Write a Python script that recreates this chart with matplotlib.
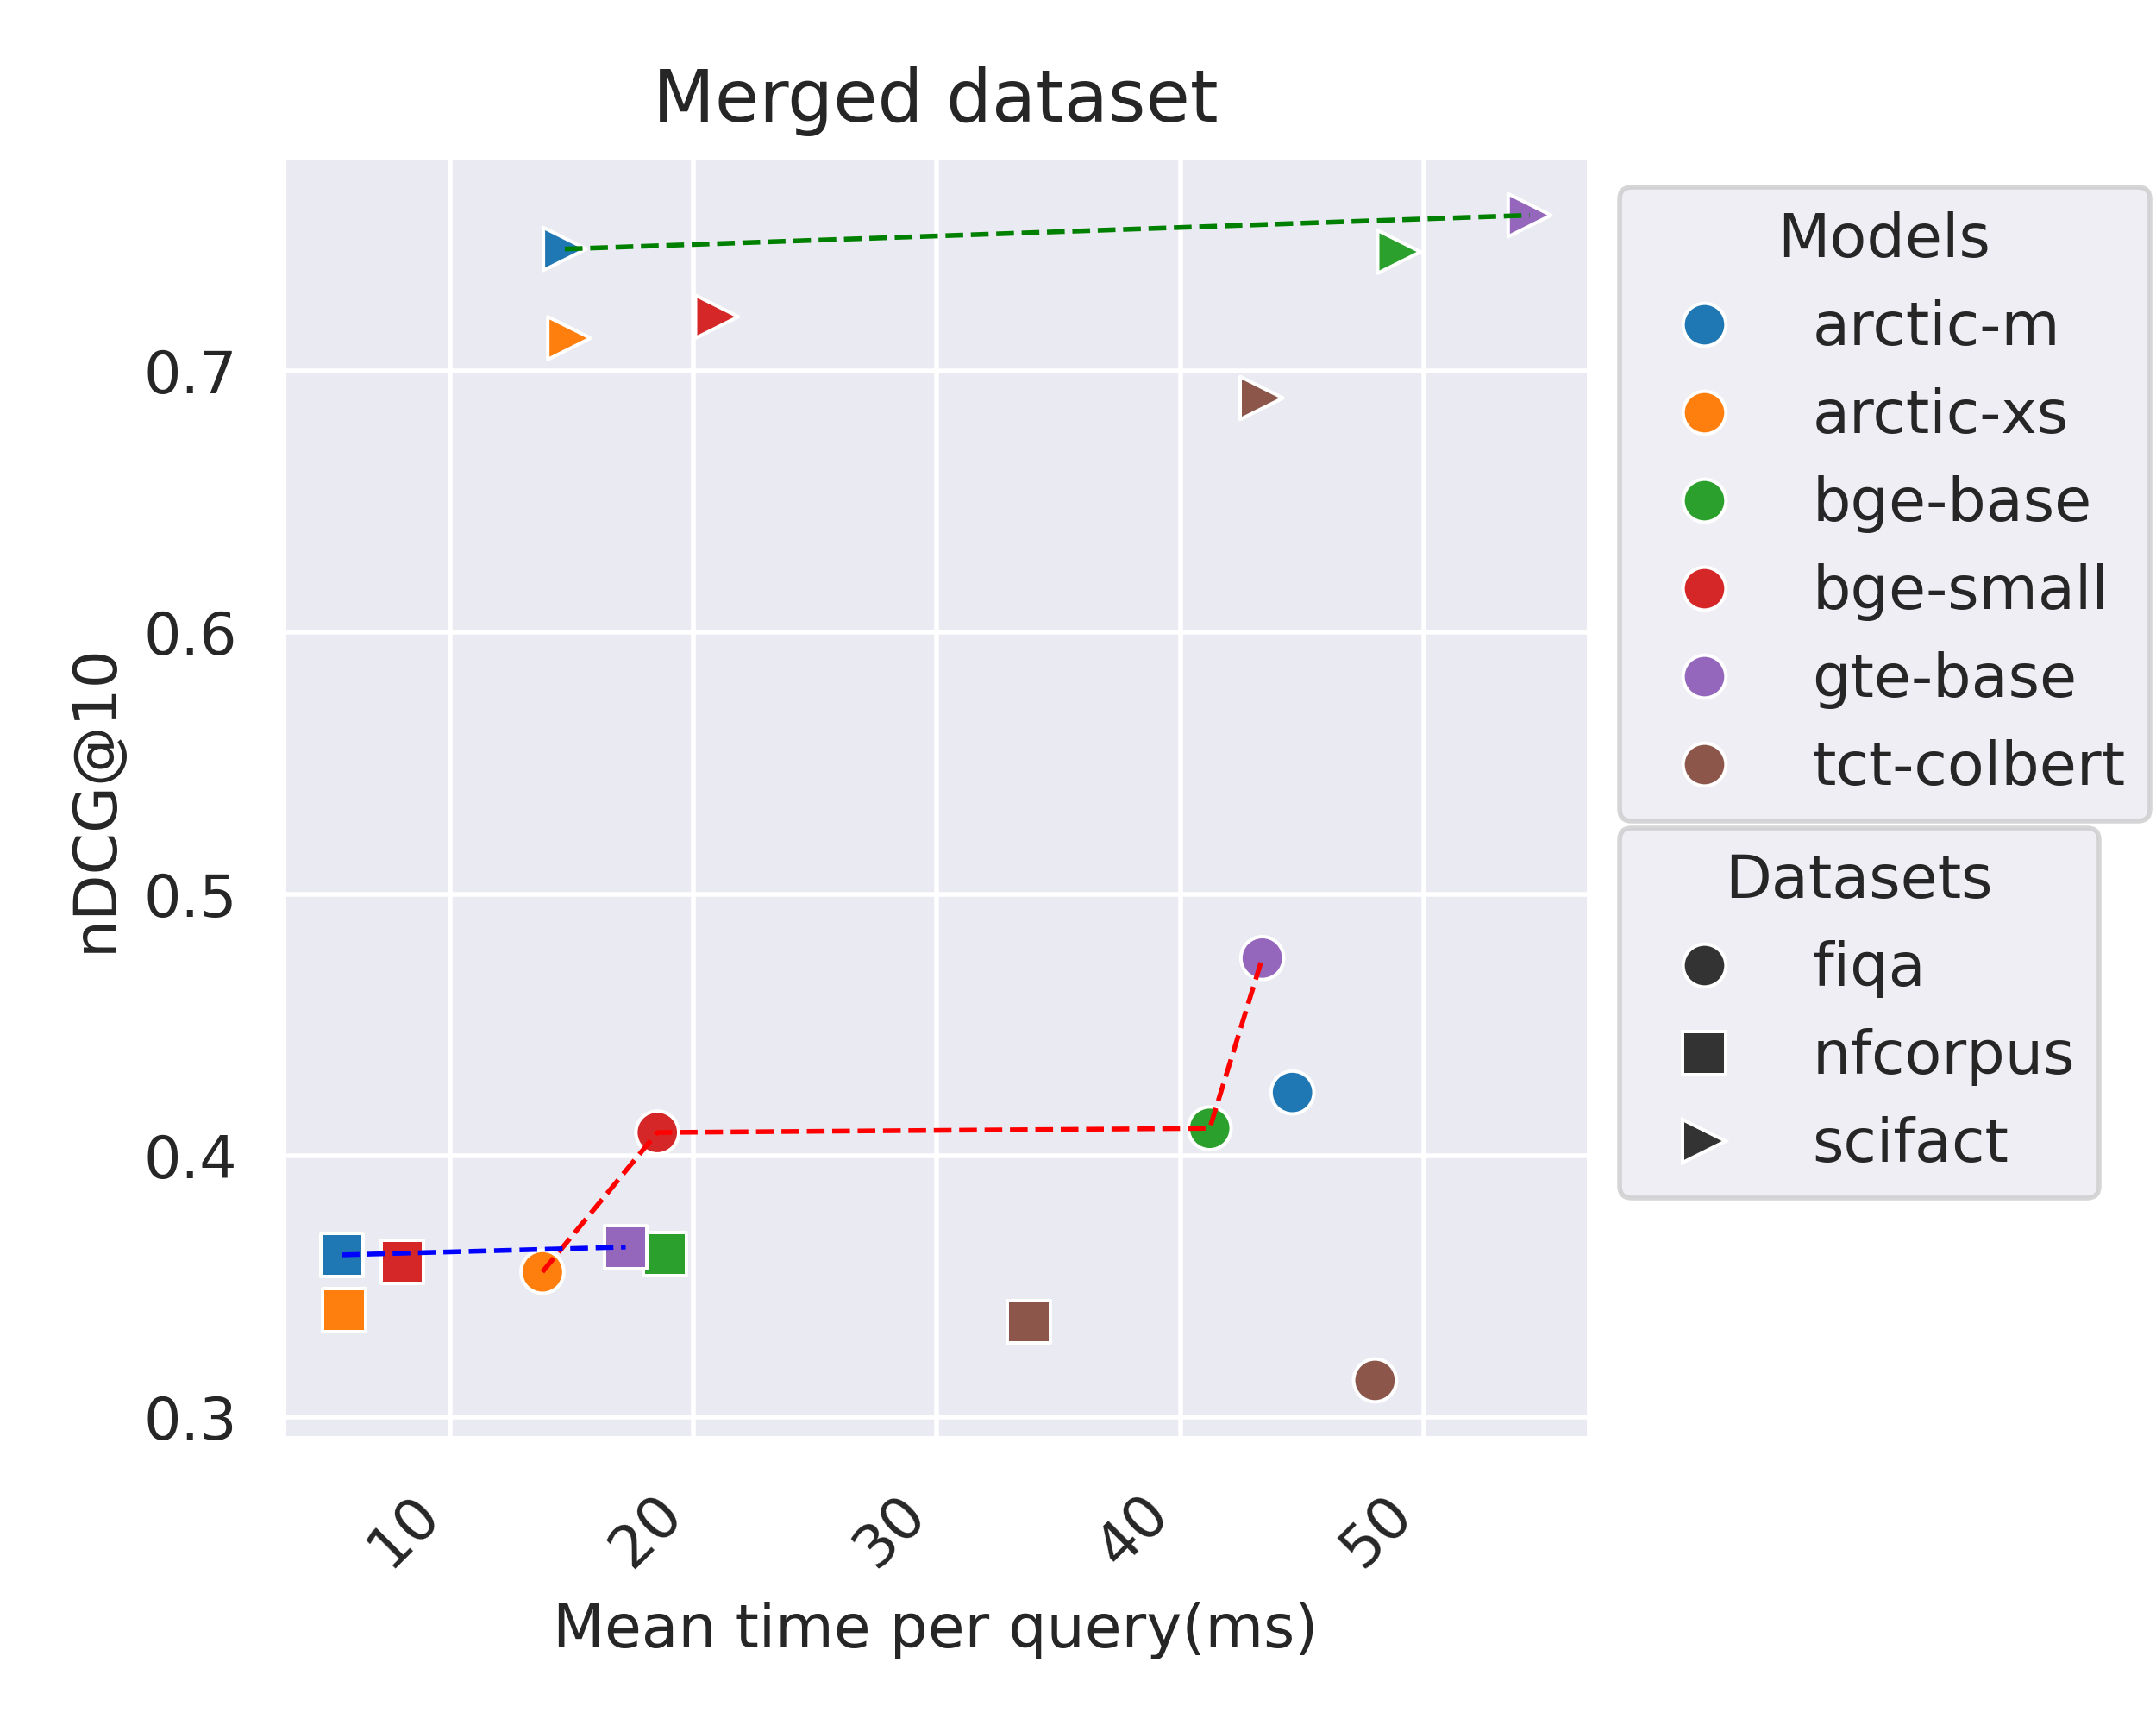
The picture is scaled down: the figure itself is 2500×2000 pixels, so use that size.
import matplotlib
matplotlib.use("Agg")
import matplotlib.pyplot as plt
from matplotlib.lines import Line2D
import seaborn as sns

# models and datasets
models = ['arctic-m', 'arctic-xs', 'bge-base', 'bge-small', 'gte-base', 'tct-colbert']
datasets = ['fiqa', 'nfcorpus', 'scifact']
model_colors = ['#1f77b4', '#ff7f0e', '#2ca02c', '#d62728', '#9467bd', '#8c564b']
dataset_markers = ['o', 's', '>']
pareto_colors = ['red', 'blue', 'green']

# mean time per query (ms), one list per dataset, in the order of models
fiqa_time = [44.61, 13.80, 41.21, 18.52, 43.37, 48.00]
nfcorpus_time = [5.56, 5.66, 18.83, 8.04, 17.22, 33.77]
scifact_time = [14.72, 14.90, 48.99, 20.97, 54.35, 43.34]

# nDCG@10
fiqa_ndcg = [0.4241, 0.3555, 0.4104, 0.4088, 0.4755, 0.3140]
nfcorpus_ndcg = [0.3620, 0.3409, 0.3623, 0.3593, 0.3650, 0.3364]
scifact_ndcg = [0.7467, 0.7126, 0.7456, 0.7208, 0.7596, 0.6897]

times = [fiqa_time, nfcorpus_time, scifact_time]
scores = [fiqa_ndcg, nfcorpus_ndcg, scifact_ndcg]


def pareto(xs, ys):
    # punkte die schneller sind und trotzdem besser als alle vorherigen
    order = sorted(range(len(xs)), key=lambda i: xs[i])
    px, py = [], []
    best = -1
    for i in order:
        if ys[i] > best:
            best = ys[i]
            px.append(xs[i])
            py.append(ys[i])
    return px, py


sns.set_theme(style="darkgrid")

fig = plt.figure(figsize=(6.25, 5), dpi=400)
ax = fig.add_subplot(111)
fig.subplots_adjust(left=0.1310, right=0.7370, top=0.9090, bottom=0.166)

msize = 80
for d in range(len(datasets)):
    ax.scatter(times[d], scores[d], s=msize, c=model_colors, marker=dataset_markers[d],
               edgecolors='white', linewidths=0.72, zorder=3)

for d in range(len(datasets)):
    px, py = pareto(times[d], scores[d])
    ax.plot(px, py, '--', color=pareto_colors[d], linewidth=1, zorder=4)

ax.set_title("Merged dataset", fontsize=15, pad=7.4)
ax.set_xlabel("Mean time per query(ms)", fontsize=12.5, labelpad=5)
ax.set_ylabel("nDCG@10", fontsize=12.5)
ax.tick_params(axis='both', labelsize=12.3)
plt.setp(ax.get_xticklabels(), rotation=45, ha='right')

ms = msize ** 0.5
model_handles = [Line2D([], [], linestyle='', marker='o', markersize=ms, markerfacecolor=c,
                        markeredgecolor='white', markeredgewidth=0.72) for c in model_colors]
data_handles = [Line2D([], [], linestyle='', marker=m, markersize=ms, markerfacecolor='.2',
                       markeredgecolor='white', markeredgewidth=0.72) for m in dataset_markers]

leg1 = ax.legend(model_handles, models, title="Models", loc='upper left', bbox_to_anchor=(1, 1),
                 fontsize=12.6, title_fontsize=12.6)
ax.add_artist(leg1)
ax.legend(data_handles, datasets, title="Datasets", loc='upper left', bbox_to_anchor=(1, 0.5),
          fontsize=12.6, title_fontsize=12.6)

fig.savefig("out.png", dpi=400)
